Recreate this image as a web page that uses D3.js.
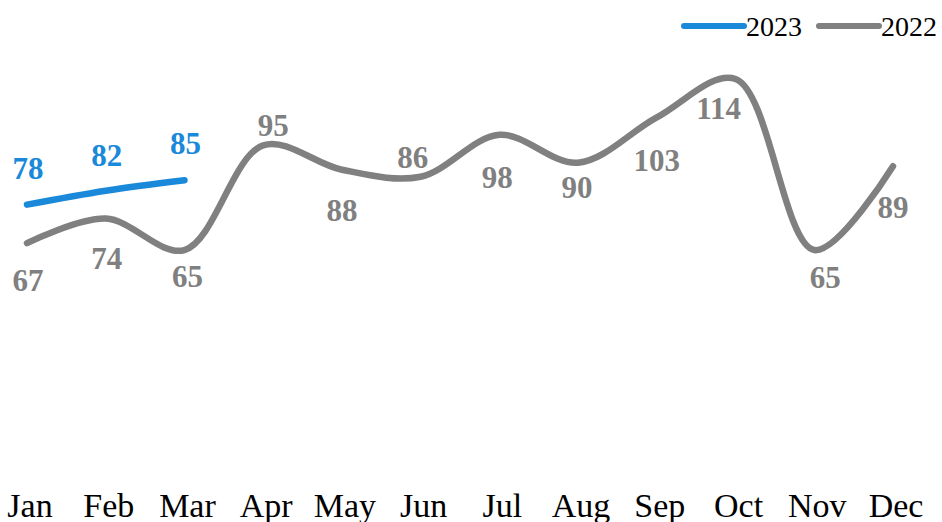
<!DOCTYPE html>
<html lang="en">
<head>
  <meta charset="UTF-8" />
  <title>2023 vs 2022</title>
  <style>
    body { margin: 0; background: #fff; }
    svg { display: block; font-family: 'Liberation Serif', 'Times New Roman', serif; }
  </style>
</head>
<body>
  <div id="chart"></div>

  <script src="https://d3js.org/d3.v7.min.js"></script>
  <script>
    const months = ["Jan", "Feb", "Mar", "Apr", "May", "Jun", "Jul", "Aug", "Sep", "Oct", "Nov", "Dec"];
    const values2023 = [78, 82, 85];
    const values2022 = [67, 74, 65, 95, 88, 86, 98, 90, 103, 114, 65, 89];

    // label nudges [dx, dy] from each point (hand placed, like the original)
    const offsets2023 = [[1, -37], [1, -36], [1, -37]];
    const offsets2022 = [[1, 37], [1, 40], [3, 26], [10, -20], [0, 40], [-8, -20],
                         [-2, 42], [-1, 24], [0, 43], [-17, 29], [11, 27], [0, 41]];

    const width = 942, height = 522;
    const blue = "#1a89d9", gray = "#808080";

    const svg = d3.select("#chart").append("svg")
      .attr("width", width)
      .attr("height", height);

    const x = d3.scalePoint().domain(months).range([27, 893]);
    const y = d3.scaleLinear().domain([0, 120]).range([477, 58]);

    // month labels along the bottom
    svg.append("g")
      .selectAll("text")
      .data(months)
      .enter()
      .append("text")
      .attr("x", d => x(d) + 3)
      .attr("y", 517)
      .attr("text-anchor", "middle")
      .style("font-size", "34px")
      .style("fill", "#000")
      .text(d => d);

    function drawSeries(vals, color, offsets) {
      const pts = vals.map((v, i) => [x(months[i]), y(v)]);
      const line = d3.line().curve(d3.curveCatmullRom.alpha(0.5));

      svg.append("path")
        .attr("d", line(pts))
        .style("fill", "none")
        .style("stroke", color)
        .style("stroke-width", 6.5)
        .style("stroke-linecap", "round")
        .style("stroke-linejoin", "round");

      svg.append("g")
        .selectAll("text")
        .data(vals)
        .enter()
        .append("text")
        .attr("x", (d, i) => pts[i][0] + offsets[i][0])
        .attr("y", (d, i) => pts[i][1] + offsets[i][1])
        .attr("dy", "0.35em")
        .attr("text-anchor", "middle")
        .style("font-size", "31px")
        .style("font-weight", "bold")
        .style("fill", color)
        .text(d => d);
    }

    drawSeries(values2022, gray, offsets2022);
    drawSeries(values2023, blue, offsets2023);

    // legend
    const legend = [
      { name: "2023", color: blue, x0: 684 },
      { name: "2022", color: gray, x0: 819 }
    ];
    const lg = svg.append("g").selectAll("g").data(legend).enter().append("g");
    lg.append("line")
      .attr("x1", d => d.x0).attr("x2", d => d.x0 + 60)
      .attr("y1", 26).attr("y2", 26)
      .style("stroke", d => d.color)
      .style("stroke-width", 6)
      .style("stroke-linecap", "round");
    lg.append("text")
      .attr("x", d => d.x0 + 62)
      .attr("y", 36)
      .style("font-size", "28px")
      .style("fill", "#000")
      .text(d => d.name);
  </script>
</body>
</html>
